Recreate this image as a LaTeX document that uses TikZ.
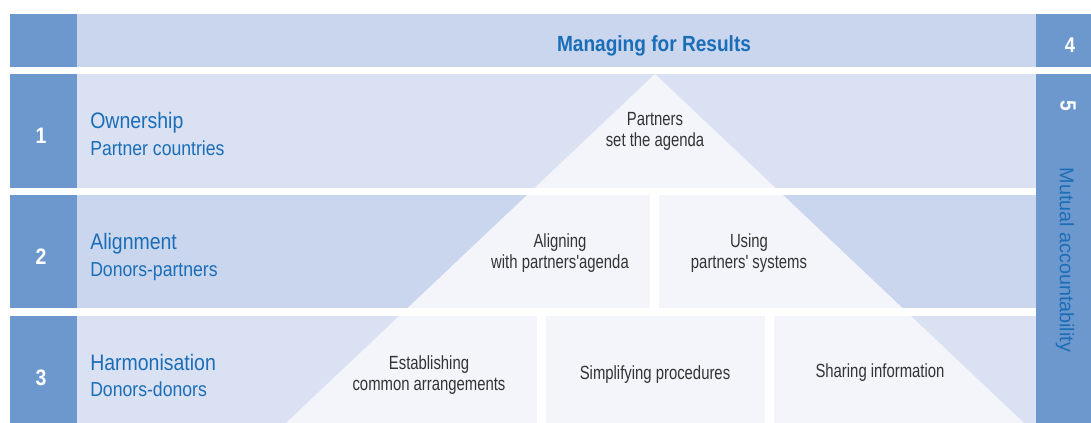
\documentclass[tikz,border=0pt]{standalone}
\usepackage{fontspec}
\setmainfont{Liberation Sans}[FakeStretch=0.87]
\newfontfamily\condfont{Liberation Sans}[FakeStretch=0.78]
\newfontfamily\widefont{Liberation Sans}
\definecolor{blockblue}{HTML}{6D98CE}
\definecolor{bandmid}{HTML}{CAD6EE}
\definecolor{bandlight}{HTML}{DAE1F2}
\definecolor{pyramid}{HTML}{F3F5FB}
\definecolor{titleblue}{HTML}{1A6DB7}
\definecolor{textgray}{HTML}{333333}
\begin{document}
\begin{tikzpicture}[x=0.75pt, y=-0.75pt,
      every node/.style={inner sep=0pt},
      num/.style={font=\fontsize{16.8}{18}\selectfont\bfseries, text=white, anchor=base},
      principle/.style={font=\fontsize{16.8}{18}\selectfont, text=titleblue, anchor=base west},
      partners/.style={font=\fontsize{15.2}{17}\selectfont, text=titleblue, anchor=base west},
      cell/.style={font=\condfont\fontsize{14.3}{15.75}\selectfont, text=textgray, align=center},
      gap/.style={fill=white}
  ]
    \useasboundingbox (0,0) rectangle (1091,423);
    \fill[white] (0,0) rectangle (1091,423);

    \fill[bandmid] (77,14) rectangle (1036,67);
    \fill[bandlight] (77,74) rectangle (1036,188);
    \fill[bandmid] (77,195) rectangle (1036,308);
    \fill[bandlight] (77,316) rectangle (1036,423);
    \fill[pyramid] (655,74) -- (1024,423) -- (286,423) -- cycle;

    \fill[gap] (77,188) rectangle (1036,195);
    \fill[gap] (77,308) rectangle (1036,316);
    \fill[gap] (650,195) rectangle (659,308);
    \fill[gap] (537,316) rectangle (546,423);
    \fill[gap] (765,316) rectangle (774,423);

    \foreach \ytop/\ybot in {14/67,74/188,195/308,316/423} {
      \fill[blockblue] (10,\ytop) rectangle (77,\ybot);
    }
    \fill[blockblue] (1036,14) rectangle (1091,67);
    \fill[blockblue] (1036,74) rectangle (1091,423);

    \node[font=\fontsize{16.45}{18}\selectfont\bfseries, text=titleblue, anchor=base] (results) at (654,52) {Managing for Results};

    \node[num] (n1) at (41,144) {1};
    \node[num] (n2) at (41,265) {2};
    \node[num] (n3) at (41,386) {3};
    \node[num, font=\fontsize{16}{18}\selectfont\bfseries] (n4) at (1070,53) {4};
    \node[num, font=\fontsize{16.5}{18}\selectfont\bfseries, anchor=center, rotate=-90] (n5) at (1068,106) {5};
    \node[font=\widefont\fontsize{14.8}{17}\selectfont, text=titleblue, rotate=-90] (mutual) at (1065,260) {Mutual accountability};

    \node[principle] (ownership) at (90,129) {Ownership};
    \node[partners] (countries) at (90,156) {Partner countries};
    \node[principle] (alignment) at (90,250) {Alignment};
    \node[partners] (donpart) at (90,277) {Donors-partners};
    \node[principle] (harmonisation) at (90,371) {Harmonisation};
    \node[partners] (dondon) at (90,397) {Donors-donors};

    \node[cell] (agenda) at (655,131.5) {Partners\\set the agenda};
    \node[cell] (aligning) at (560,253.5) {Aligning\\with partners'agenda};
    \node[cell] (systems) at (749,253.5) {Using\\partners' systems};
    \node[cell] (common) at (429,375.5) {Establishing\\common arrangements};
    \node[cell, anchor=base] (simplify) at (655,380) {Simplifying procedures};
    \node[cell, anchor=base] (sharing) at (880,378) {Sharing information};
  \end{tikzpicture}
\end{document}
